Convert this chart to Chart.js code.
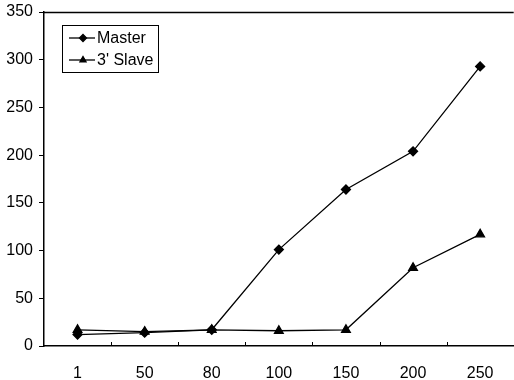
<!DOCTYPE html>
<html>
<head>
<meta charset="utf-8">
<script src="https://cdn.jsdelivr.net/npm/chart.js@4"></script>
<style>
  html, body { margin: 0; padding: 0; background: #fff; overflow: hidden; }
  #wrap { width: 514px; height: 380px; overflow: hidden; }
  canvas { display: block; }
</style>
</head>
<body>
<div id="wrap"><canvas id="chart" width="520" height="380"></canvas></div>
<script>
// datos
const categorias = ["1", "50", "80", "100", "150", "200", "250"];
const master = [12, 14, 17, 101, 164, 204, 293];
const slave = [17, 15, 17, 16, 17, 82, 117];
const yTicks = [0, 50, 100, 150, 200, 250, 300, 350];

const FUENTE = "'Liberation Sans', Arial, sans-serif";

// marco superior, ticks internos del eje x y leyenda dentro del area
const extras = {
  id: "extras",
  afterDraw(chart) {
    const ctx = chart.ctx;
    const a = chart.chartArea;
    const x = chart.scales.x;
    ctx.save();
    ctx.strokeStyle = "#000";
    ctx.lineWidth = 1.5;
    ctx.beginPath();
    ctx.moveTo(a.left, a.top + 0.5);
    ctx.lineTo(a.right, a.top + 0.5);
    ctx.stroke();

    ctx.lineWidth = 1;
    for (let i = 1; i < categorias.length; i++) {
      const px = Math.round((x.getPixelForValue(i - 1) + x.getPixelForValue(i)) / 2) + 0.5;
      ctx.beginPath();
      ctx.moveTo(px, a.bottom);
      ctx.lineTo(px, a.bottom - 4);
      ctx.stroke();
    }

    // leyenda
    const bx = 62, by = 25, bw = 96, bh = 47;
    ctx.fillStyle = "#fff";
    ctx.fillRect(bx, by, bw, bh);
    ctx.strokeRect(bx + 0.5, by + 0.5, bw, bh);
    ctx.font = "16px " + FUENTE;
    ctx.textBaseline = "middle";
    chart.data.datasets.forEach((ds, i) => {
      const yy = by + 13 + i * 22;
      ctx.strokeStyle = "#000";
      ctx.lineWidth = 1.3;
      ctx.beginPath();
      ctx.moveTo(bx + 7, yy);
      ctx.lineTo(bx + 33, yy);
      ctx.stroke();
      Chart.helpers.drawPoint(ctx, { pointStyle: ds.pointStyle, radius: 3.5, borderWidth: 1 }, bx + 21, yy);
      ctx.fillStyle = "#000";
      ctx.fill();
      ctx.fillText(ds.label, bx + 35, yy + 1);
    });
    ctx.restore();
  }
};

new Chart(document.getElementById("chart"), {
  type: "line",
  data: {
    labels: categorias,
    datasets: [
      {
        label: "Master",
        data: master,
        borderColor: "#000",
        backgroundColor: "#000",
        borderWidth: 1.3,
        pointStyle: "rectRot",
        pointRadius: 4.5,
        tension: 0
      },
      {
        label: "3' Slave",
        data: slave,
        borderColor: "#000",
        backgroundColor: "#000",
        borderWidth: 1.3,
        pointStyle: "triangle",
        pointRadius: 5,
        tension: 0
      }
    ]
  },
  options: {
    responsive: false,
    animation: false,
    layout: { padding: { top: 12, right: 0, left: 0, bottom: 0 } },
    plugins: { legend: { display: false }, tooltip: { enabled: false } },
    scales: {
      x: {
        offset: true,
        grid: { display: false, offset: true },
        border: { color: "#000", width: 1.5 },
        ticks: { color: "#000", font: { size: 16, family: FUENTE }, padding: 10, maxRotation: 0 },
        afterFit: (s) => { s.height = 34; s.paddingLeft = 0; s.paddingRight = 0; }
      },
      y: {
        min: 0,
        max: 350,
        afterBuildTicks: (s) => { s.ticks = yTicks.map((v) => ({ value: v })); },
        grid: { drawOnChartArea: false, tickLength: 5, color: "#000" },
        border: { color: "#000", width: 1.5 },
        ticks: { color: "#000", font: { size: 16, family: FUENTE }, padding: 6 },
        afterFit: (s) => { s.width = 44; s.paddingTop = 0; s.paddingBottom = 0; }
      }
    }
  },
  plugins: [extras]
});
</script>
</body>
</html>
